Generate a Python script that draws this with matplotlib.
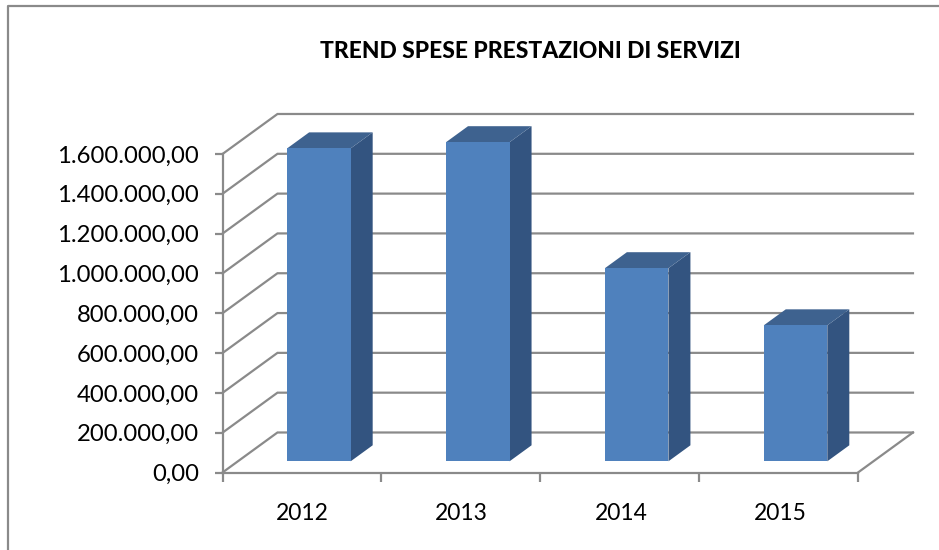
import matplotlib
matplotlib.use("Agg")
import matplotlib.pyplot as plt
from matplotlib.lines import Line2D
from matplotlib.ticker import FixedLocator

plt.rcParams['font.family'] = ['Lato', 'DejaVu Sans']

years = ['2012', '2013', '2014', '2015']
spese = [1572000, 1603000, 970000, 683000]
y_ticks = [0, 200000, 400000, 600000, 800000, 1000000, 1200000, 1400000, 1600000]
y_labels = ['0,00', '200.000,00', '400.000,00', '600.000,00', '800.000,00',
            '1.000.000,00', '1.200.000,00', '1.400.000,00', '1.600.000,00']

GREY = '#8a8a8a'
# offset of the back wall, in data units
DEPTH_X = 0.346
DEPTH_Y = 201000
BAR_FRONT = 0.28
BAR_BACK = 0.68
BAR_W = 0.40

W, H = 939, 550
fig = plt.figure(figsize=(W / 100, H / 100), dpi=100)
ax = fig.add_axes([222.5 / W, 1 - 472.5 / H, 635.5 / W, 318.5 / H])
ax.set_xlim(0, 4)
ax.set_ylim(0, 1600000)

# chart frame (open on the right and at the bottom)
fig.add_artist(Line2D([7.5 / W, 7.5 / W, 1], [0, 1 - 5.5 / H, 1 - 5.5 / H],
                      color=GREY, lw=1.6, transform=fig.transFigure))

# walls
for v in y_ticks:
    ax.plot([0, DEPTH_X, 4 + DEPTH_X], [v, v + DEPTH_Y, v + DEPTH_Y],
            color=GREY, lw=1.6, clip_on=False, zorder=1, solid_joinstyle='miter')
ax.plot([4, 4 + DEPTH_X], [0, DEPTH_Y], color=GREY, lw=1.6, clip_on=False, zorder=1)

# bars
for i, val in enumerate(spese):
    x0 = i + 0.51 - BAR_W / 2 + BAR_FRONT * DEPTH_X
    x1 = x0 + BAR_W
    base = BAR_FRONT * DEPTH_Y
    top = base + val
    dx = (BAR_BACK - BAR_FRONT) * DEPTH_X
    dy = (BAR_BACK - BAR_FRONT) * DEPTH_Y
    ax.fill([x1, x1 + dx, x1 + dx, x1], [base, base + dy, top + dy, top],
            color='#335480', lw=0, clip_on=False, zorder=3)
    ax.fill([x0, x1, x1 + dx, x0 + dx], [top, top, top + dy, top + dy],
            color='#3e628f', lw=0, clip_on=False, zorder=3)
    ax.bar(x0, val, width=BAR_W, bottom=base, align='edge', color='#4f81bd', lw=0,
           zorder=4, clip_on=False)

# axes and ticks
for s in ['top', 'right']:
    ax.spines[s].set_visible(False)
for s in ['left', 'bottom']:
    ax.spines[s].set_color(GREY)
    ax.spines[s].set_linewidth(1.6)
ax.patch.set_alpha(0)

ax.set_yticks(y_ticks)
ax.set_yticklabels(y_labels)
ax.tick_params(axis='y', length=5.8, width=1.6, color=GREY, pad=11, labelsize=17.2)
ax.set_xticks([0, 1, 2, 3, 4])
ax.set_xticklabels([])
ax.tick_params(axis='x', which='major', length=6.5, width=1.6, color=GREY)
ax.xaxis.set_minor_locator(FixedLocator([0.5, 1.5, 2.51, 3.51]))
ax.set_xticklabels(years, minor=True)
ax.tick_params(axis='x', which='minor', length=0, pad=22, labelsize=16.5)

fig.text(530 / W, 1 - 52 / H, 'TREND SPESE PRESTAZIONI DI SERVIZI', ha='center', va='center',
         fontsize=16.4, fontweight='black', color='black')

fig.savefig('out.png', dpi=100)
